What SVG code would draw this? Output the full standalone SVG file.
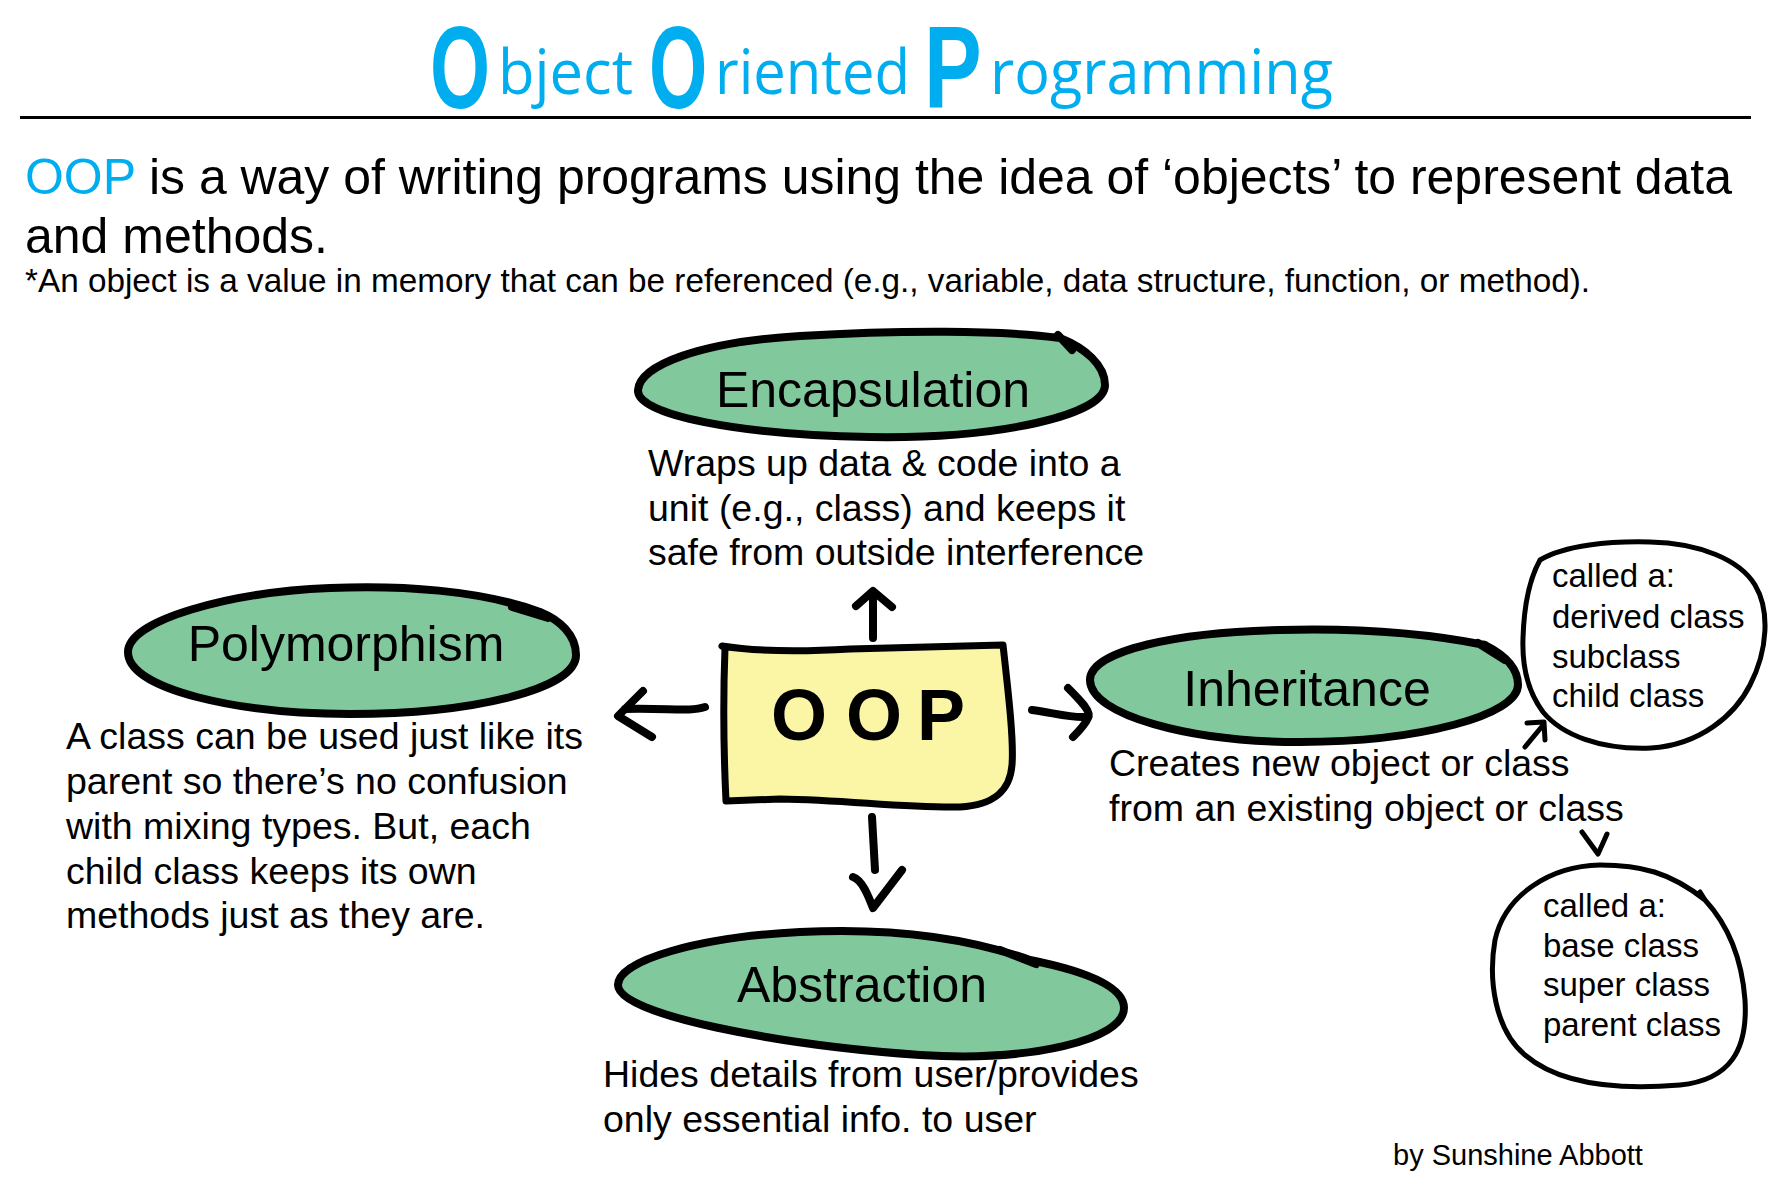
<svg xmlns="http://www.w3.org/2000/svg" width="1771" height="1180" viewBox="0 0 1771 1180">
<style>
.t{font-family:"Liberation Sans",Arial,sans-serif;fill:#000}
.title{font-family:"Open Sans","Noto Sans",sans-serif;fill:#00aeef}
.big{font-family:"Liberation Sans",Arial,sans-serif;font-weight:bold;fill:#00aeef;font-size:117px}
.lbl{font-size:50px;text-anchor:middle}
.desc{font-size:37.5px}
.bub{font-size:33px}
.oval{fill:#81c99d;stroke:#000;stroke-width:8;stroke-linejoin:round;stroke-linecap:round}
.blob{fill:#fff;stroke:#000;stroke-width:5;stroke-linejoin:round;stroke-linecap:round}
.arr{fill:none;stroke:#000;stroke-width:8;stroke-linecap:round;stroke-linejoin:round}
.arr2{fill:none;stroke:#000;stroke-width:5;stroke-linecap:round;stroke-linejoin:round}
</style>
<rect width="1771" height="1180" fill="#fff"/>

<g id="title">
<text class="big" transform="translate(430,108) scale(0.66,1)">O</text>
<text class="title" x="498" y="94" font-size="62" textLength="135" lengthAdjust="spacingAndGlyphs">bject</text>
<text class="big" transform="translate(649,108) scale(0.64,1)">O</text>
<text class="title" x="715" y="94" font-size="62" textLength="195" lengthAdjust="spacingAndGlyphs">riented</text>
<text class="big" transform="translate(924,107) scale(0.74,1)">P</text>
<text class="title" x="990" y="94" font-size="62" textLength="343" lengthAdjust="spacingAndGlyphs">rogramming</text>
<line x1="20" y1="117.5" x2="1751" y2="117.5" stroke="#000" stroke-width="3"/>
</g>

<g id="intro">
<text class="t" x="25" y="194" font-size="50" textLength="1707" lengthAdjust="spacingAndGlyphs"><tspan fill="#00aeef">OOP</tspan> is a way of writing programs using the idea of ‘objects’ to represent data</text>
<text class="t" x="25" y="253" font-size="50">and methods.</text>
<text class="t" x="25" y="292" font-size="33" textLength="1565" lengthAdjust="spacingAndGlyphs">*An object is a value in memory that can be referenced (e.g., variable, data structure, function, or method).</text>
</g>

<g id="connectors">
<path class="arr" d="M873 638 L873 593 M856 606 L873 591 L892 607"/>
<path class="arr" d="M705 707 C690 712 670 708 625 709 M643 691 L618 716 L652 737"/>
<path class="arr" d="M1032 710 C1050 712 1070 718 1085 717 M1068 688 C1080 700 1092 712 1088 718 C1085 725 1078 732 1073 737"/>
<path class="arr" d="M872 817 L875 870 M853 877 C862 880 868 895 873 908 L902 870"/>
<path class="arr2" d="M1525 747 L1544 724 M1527 723 L1544 722 L1545 740"/>
<path class="arr2" d="M1582 832 L1598 854 L1607 834"/>
</g>

<g id="oop">
<path d="M722 646 C760 652 800 652 850 649 L1003 645 C1008 690 1014 740 1012 765 C1010 790 995 805 960 807 C900 808 850 800 780 799 L726 801 C724 760 723 700 725 648 Z" fill="#faf6a6" stroke="#000" stroke-width="7" stroke-linejoin="round"/>
<text class="t" x="771 846 917" y="740" font-size="72" font-weight="bold">OOP</text>
</g>

<g id="encapsulation">
<path class="oval" d="M1060 338 C1000 330 900 330 800 336 C700 342 640 365 638 390 C636 415 740 435 870 437 C1000 439 1105 415 1105 385 C1105 365 1085 348 1060 338 M1058 335 L1072 350"/>
<text class="t lbl" x="873" y="407">Encapsulation</text>
<text class="t desc" x="648" y="476">Wraps up data &amp; code into a</text>
<text class="t desc" x="648" y="521">unit (e.g., class) and keeps it</text>
<text class="t desc" x="648" y="565">safe from outside interference</text>
</g>

<g id="polymorphism">
<path class="oval" d="M540 612 C480 590 400 585 330 588 C230 592 128 620 128 652 C128 690 240 714 350 714 C470 714 576 690 576 655 C576 635 560 620 540 612 M512 607 L548 618"/>
<text class="t lbl" x="346" y="661">Polymorphism</text>
<text class="t desc" x="66" y="749">A class can be used just like its</text>
<text class="t desc" x="66" y="794">parent so there’s no confusion</text>
<text class="t desc" x="66" y="839">with mixing types. But, each</text>
<text class="t desc" x="66" y="884">child class keeps its own</text>
<text class="t desc" x="66" y="928">methods just as they are.</text>
</g>

<g id="inheritance">
<path class="oval" d="M1485 645 C1420 632 1350 628 1280 630 C1180 632 1090 650 1090 680 C1090 715 1190 742 1300 742 C1420 742 1518 715 1518 685 C1518 668 1505 655 1485 645 M1478 643 L1505 660"/>
<text class="t lbl" x="1307" y="706">Inheritance</text>
<text class="t desc" x="1109" y="776">Creates new object or class</text>
<text class="t desc" x="1109" y="821">from an existing object or class</text>
</g>

<g id="abstraction">
<path class="oval" d="M1030 960 C960 935 880 928 800 932 C700 937 618 960 618 985 C618 1015 780 1045 920 1055 C1030 1062 1124 1040 1124 1008 C1124 985 1080 970 1030 960 M1000 950 L1036 964"/>
<text class="t lbl" x="862" y="1002">Abstraction</text>
<text class="t desc" x="603" y="1087">Hides details from user/provides</text>
<text class="t desc" x="603" y="1132">only essential info. to user</text>
</g>

<g id="child-names">
<path class="blob" d="M1540 560 C1565 545 1610 541 1650 542 C1700 543 1740 560 1755 585 C1770 610 1768 650 1750 685 C1735 715 1700 745 1651 748 C1600 750 1562 735 1543 712 C1528 692 1522 665 1523 638 C1524 605 1530 578 1540 560 Z"/>
<text class="t bub" x="1552" y="587">called a:</text>
<text class="t bub" x="1552" y="628">derived class</text>
<text class="t bub" x="1552" y="668">subclass</text>
<text class="t bub" x="1552" y="707">child class</text>
</g>

<g id="parent-names">
<path class="blob" d="M1705 900 C1670 872 1640 865 1600 865 C1550 866 1505 895 1495 940 C1488 980 1495 1030 1525 1055 C1560 1085 1620 1090 1680 1085 C1730 1080 1748 1050 1745 1000 C1742 960 1728 925 1705 900 L1700 892"/>
<text class="t bub" x="1543" y="917">called a:</text>
<text class="t bub" x="1543" y="957">base class</text>
<text class="t bub" x="1543" y="996">super class</text>
<text class="t bub" x="1543" y="1036">parent class</text>
</g>

<g id="byline">
<text class="t" x="1393" y="1165" font-size="29">by Sunshine Abbott</text>
</g>
</svg>
